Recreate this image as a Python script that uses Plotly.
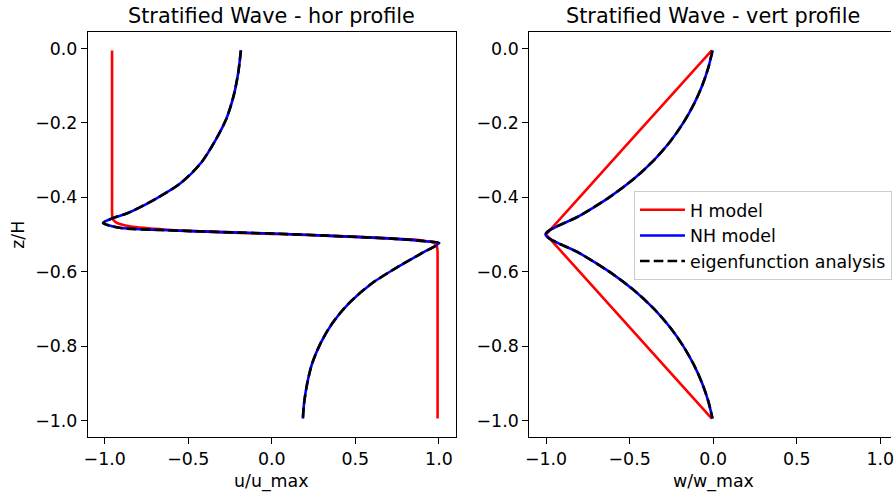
import plotly.graph_objects as go

# ---------------- data ----------------
# Left panel: horizontal velocity profile u/u_max vs z/H
h_hor_z = [-0.005, -0.1, -0.2, -0.3, -0.4, -0.45, -0.46, -0.468, -0.477, -0.486,
           -0.491, -0.497, -0.503, -0.511, -0.516, -0.521, -0.528, -0.54, -0.56,
           -0.6, -0.7, -0.8, -0.9, -0.995]
h_hor_u = [-0.956, -0.956, -0.956, -0.956, -0.956, -0.955, -0.95, -0.93, -0.86, -0.66,
           -0.47, -0.10, 0.33, 0.72, 0.90, 0.96, 0.985, 0.991, 0.992,
           0.992, 0.992, 0.992, 0.992, 0.992]

nh_hor_z = [-0.005, -0.065, -0.128, -0.191, -0.244, -0.307, -0.361, -0.406, -0.442,
            -0.456, -0.469, -0.482, -0.488, -0.491, -0.496, -0.498, -0.503, -0.511,
            -0.518, -0.523, -0.55, -0.586, -0.631, -0.685, -0.739, -0.792, -0.846,
            -0.9, -0.954, -0.995]
nh_hor_u = [-0.185, -0.201, -0.229, -0.274, -0.334, -0.423, -0.543, -0.702, -0.861,
            -0.951, -1.010, -0.911, -0.662, -0.473, -0.106, 0.044, 0.322, 0.719,
            0.918, 1.001, 0.898, 0.759, 0.600, 0.461, 0.361, 0.292, 0.242,
            0.212, 0.193, 0.186]

eig_hor_z = list(nh_hor_z)
eig_hor_u = list(nh_hor_u)

# Right panel: vertical velocity profile w/w_max vs z/H
h_vert_z = [-0.005, -0.1, -0.2, -0.3, -0.4, -0.5, -0.6, -0.7, -0.8, -0.9, -0.995]
h_vert_w = [-0.008, -0.2, -0.4, -0.6, -0.8, -1.0, -0.8, -0.6, -0.4, -0.2, -0.008]

nh_vert_z = [-0.005, -0.05, -0.1, -0.15, -0.2, -0.25, -0.3, -0.35, -0.4, -0.45,
             -0.5, -0.55, -0.6, -0.65, -0.7, -0.75, -0.8, -0.85, -0.9, -0.95, -0.995]
nh_vert_w = [-0.004, -0.028, -0.066, -0.116, -0.179, -0.257, -0.354, -0.474, -0.622, -0.8,
             -1.003, -0.8, -0.622, -0.474, -0.354, -0.257, -0.179, -0.116, -0.066, -0.028, -0.004]

eig_vert_z = list(nh_vert_z)
eig_vert_w = list(nh_vert_w)

titles = ["Stratified Wave - hor profile", "Stratified Wave - vert profile"]
x_labels = ["u/u_max", "w/w_max"]
y_label = "z/H"
legend_names = ["H model", "NH model", "eigenfunction analysis"]

x_tickvals = [-1.0, -0.5, 0.0, 0.5, 1.0]
x_ticktext = ["\u22121.0", "\u22120.5", "0.0", "0.5", "1.0"]
y_tickvals = [0.0, -0.2, -0.4, -0.6, -0.8, -1.0]
y_ticktext = ["0.0", "\u22120.2", "\u22120.4", "\u22120.6", "\u22120.8", "\u22121.0"]

# ---------------- figure ----------------
W, H = 894, 493
ML, MR, MT, MB = 88, 0, 32, 56
PW = W - ML - MR
PH = H - MT - MB

def px_x(p):
    return (p - ML) / PW

def px_y(p):
    return (H - MB - p) / PH

FONT = "DejaVu Sans"
RED, BLUE, BLACK = "#ff0000", "#0000ff", "#000000"
LW = 2.6
DASH = "9.6px,4.2px"
TICK_FS = 17.4
TITLE_FS = 20.8
SPL = dict(shape="spline", smoothing=0.8)

fig = go.Figure()

# left panel
fig.add_trace(go.Scatter(x=h_hor_u, y=h_hor_z, mode="lines",
                         line=dict(color=RED, width=LW, **SPL),
                         xaxis="x", yaxis="y", showlegend=False))
fig.add_trace(go.Scatter(x=nh_hor_u, y=nh_hor_z, mode="lines",
                         line=dict(color=BLUE, width=LW, **SPL),
                         xaxis="x", yaxis="y", showlegend=False))
fig.add_trace(go.Scatter(x=eig_hor_u, y=eig_hor_z, mode="lines",
                         line=dict(color=BLACK, width=LW, dash=DASH, **SPL),
                         xaxis="x", yaxis="y", showlegend=False))

# right panel
fig.add_trace(go.Scatter(x=h_vert_w, y=h_vert_z, mode="lines", name=legend_names[0],
                         line=dict(color=RED, width=LW), xaxis="x2", yaxis="y2"))
fig.add_trace(go.Scatter(x=nh_vert_w, y=nh_vert_z, mode="lines", name=legend_names[1],
                         line=dict(color=BLUE, width=LW, **SPL),
                         xaxis="x2", yaxis="y2"))
fig.add_trace(go.Scatter(x=eig_vert_w, y=eig_vert_z, mode="lines", name=legend_names[2],
                         line=dict(color=BLACK, width=LW, dash=DASH, **SPL),
                         xaxis="x2", yaxis="y2"))

axis_common = dict(
    showgrid=False, zeroline=False, showline=True, linecolor="black", linewidth=1.2,
    ticks="outside", ticklen=6, tickwidth=1.2, tickcolor="black",
    tickfont=dict(family=FONT, size=TICK_FS, color="black"),
)

x1_dom = [0.0, px_x(457)]
x2_dom = [px_x(531), 1.0]
x_range1 = [-1.1, 1.1]
scale = (457 - 88) / (x_range1[1] - x_range1[0])
x_range2 = [-1.1, -1.1 + (W - 531) / scale]
y_range = [-1.0445, 0.0445]

fig.update_layout(
    width=W, height=H,
    margin=dict(l=ML, r=MR, t=MT, b=MB),
    paper_bgcolor="white", plot_bgcolor="white",
    font=dict(family=FONT, color="black"),
    xaxis=dict(domain=x1_dom, range=x_range1, tickvals=x_tickvals, ticktext=x_ticktext,
               mirror=True, anchor="y", **axis_common),
    yaxis=dict(domain=[0, 1], range=y_range, tickvals=y_tickvals, ticktext=y_ticktext,
               mirror=True, anchor="x", **axis_common),
    xaxis2=dict(domain=x2_dom, range=x_range2, tickvals=x_tickvals, ticktext=x_ticktext,
                mirror=True, anchor="y2", ticklabeloverflow="allow", **axis_common),
    yaxis2=dict(domain=[0, 1], range=y_range, tickvals=y_tickvals, ticktext=y_ticktext,
                mirror=False, anchor="x2", **axis_common),
    legend=dict(
        x=px_x(636), y=px_y(191), xanchor="left", yanchor="top",
        bgcolor="rgba(255,255,255,0.8)", bordercolor="#cccccc", borderwidth=1,
        font=dict(family=FONT, size=TICK_FS, color="black"),
        tracegroupgap=0, itemwidth=45,
    ),
    showlegend=True,
)

ann = []
centers = [(88 + 457) / 2, (531 + 900) / 2]
for i in range(2):
    ann.append(dict(text=titles[i], x=px_x(centers[i]), y=px_y(15.5), xref="paper", yref="paper",
                    xanchor="center", yanchor="middle", showarrow=False,
                    font=dict(family=FONT, size=TITLE_FS, color="black")))
    ann.append(dict(text=x_labels[i], x=px_x(centers[i]), y=px_y(481), xref="paper", yref="paper",
                    xanchor="center", yanchor="middle", showarrow=False,
                    font=dict(family=FONT, size=TICK_FS, color="black")))
ann.append(dict(text=y_label, x=px_x(17), y=px_y(234.5), xref="paper", yref="paper",
                xanchor="center", yanchor="middle", showarrow=False, textangle=-90,
                font=dict(family=FONT, size=TICK_FS, color="black")))
fig.update_layout(annotations=ann)

fig.write_html("out.html", config={"displayModeBar": False},
               post_script="document.body.style.margin='0px';document.body.style.overflow='hidden';")
